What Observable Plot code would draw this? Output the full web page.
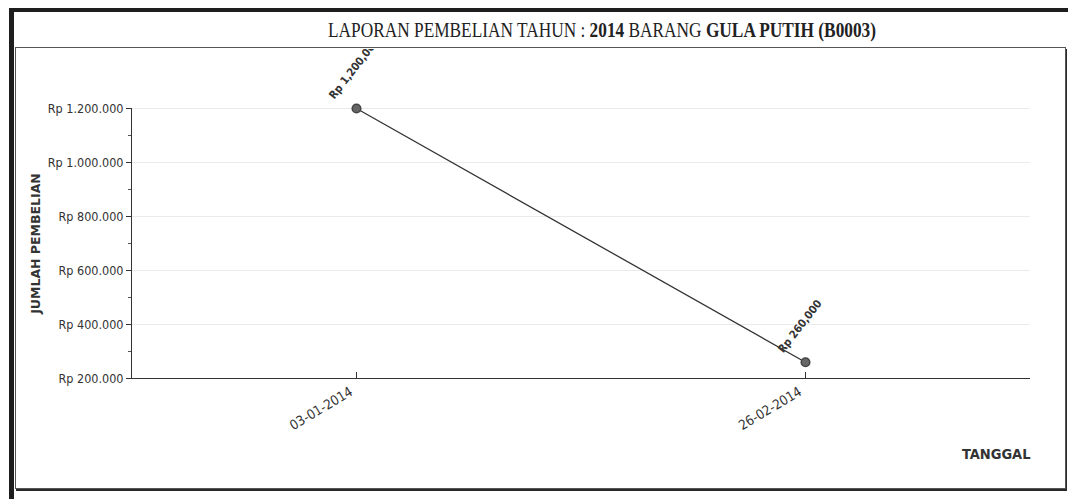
<!DOCTYPE html>
<html>
<head>
<meta charset="utf-8">
<script src="https://cdn.jsdelivr.net/npm/d3@7"></script>
<script src="https://cdn.jsdelivr.net/npm/@observablehq/plot@0.6"></script>
<style>
  html, body { margin: 0; padding: 0; background: #fff; }
  #page { position: relative; width: 1068px; height: 499px; overflow: hidden; background: #fff; }
  #outer { position: absolute; left: 9px; top: 8px; width: 1080px; height: 520px;
           border-left: 5px solid #1e1e1e; border-top: 4px solid #1e1e1e; }
  #inner { position: absolute; left: 15px; top: 47px; width: 1049px; height: 440px;
           border: 1.5px solid #555; box-shadow: 1px 2px 0 #2a2a2a; }
  #title { position: absolute; left: 328px; top: 18px; white-space: nowrap;
           font-family: "Liberation Serif", "Times New Roman", serif; font-size: 21px;
           line-height: 25px; color: #222; transform-origin: 0 0; }
  #title b { font-weight: bold; }
  #chart { position: absolute; left: 16px; top: 49px; }
  #chart svg { overflow: hidden; }
</style>
</head>
<body>
<div id="page">
  <div id="outer"></div>
  <div id="inner"></div>
  <div id="title">LAPORAN PEMBELIAN TAHUN : <b>2014</b> BARANG <b>GULA PUTIH (B0003)</b></div>
  <div id="chart"></div>
</div>
<script>
// ---- data ----
const dates = ["03-01-2014", "26-02-2014"];
const amounts = [1200000, 260000];
const pointLabels = ["Rp 1,200,000", "Rp 260,000"];
const yTicks = [200000, 400000, 600000, 800000, 1000000, 1200000];
const yMinorTicks = [300000, 500000, 700000, 900000, 1100000];
const yTitle = "JUMLAH PEMBELIAN";
const xTitle = "TANGGAL";

const data = dates.map((d, i) => ({date: d, amount: amounts[i], label: pointLabels[i]}));

const idLocale = d3.formatLocale({decimal: ",", thousands: ".", grouping: [3], currency: ["Rp ", ""]});
const fmtY = idLocale.format("$,.0f");

const chart = Plot.plot({
  width: 1048,
  height: 439,
  marginLeft: 115,
  marginRight: 34,
  marginTop: 59,
  marginBottom: 110,
  style: {fontFamily: "'DejaVu Sans Condensed', 'DejaVu Sans', sans-serif", fontSize: "12.5px", color: "#333", background: "transparent", overflow: "hidden"},
  x: {type: "point", domain: dates, padding: 0.5},
  y: {domain: [200000, 1200000]},
  marks: [
    Plot.ruleY(yTicks, {stroke: "#ebebeb", strokeWidth: 1}),
    Plot.axisY(yTicks, {tickSize: 5, tickPadding: 3, tickFormat: fmtY, label: null, stroke: "#333", fill: "#333"}),
    Plot.axisY(yMinorTicks, {tickSize: 3, tickFormat: () => "", label: null, stroke: "#555"}),
    Plot.frame({anchor: "left", stroke: "#333"}),
    Plot.ruleY([200000], {stroke: "#333", strokeWidth: 1.2}),
    Plot.axisX({tickSize: 0, tickPadding: 12, tickRotate: -31, label: null, fontSize: 13.5, fill: "#333", dx: -5}),
    Plot.tickX(dates, {x: d => d, insetTop: 264, stroke: "#333"}),
    Plot.line(data, {x: "date", y: "amount", stroke: "#333", strokeWidth: 1.3}),
    Plot.dot(data, {x: "date", y: "amount", r: 4.3, fill: "#666", stroke: "#444", strokeWidth: 1.5}),
    Plot.text(data, {x: "date", y: "amount", text: "label", rotate: -52, textAnchor: "start", dx: -25, dy: -11, fontWeight: "bold", fontSize: 11, fill: "#333"}),
    Plot.text([yTitle], {frameAnchor: "left", textAnchor: "middle", rotate: -90, dx: -96, fontFamily: "'DejaVu Sans', sans-serif", fontWeight: "bold", fontSize: 12.5, fill: "#333"}),
    Plot.text([xTitle], {frameAnchor: "bottom-right", textAnchor: "end", dy: 80, fontWeight: "bold", fontSize: 14.5, fill: "#333"})
  ]
});
document.getElementById("chart").append(chart);

// squeeze the title to the reference width
const t = document.getElementById("title");
const w = t.getBoundingClientRect().width;
t.style.transform = `scaleX(${548 / w})`;
</script>
</body>
</html>
